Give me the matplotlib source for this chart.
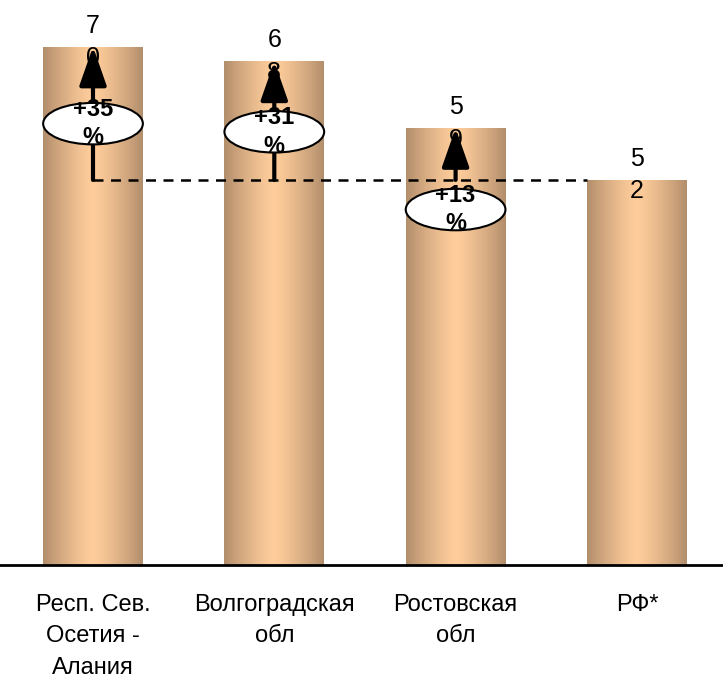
import numpy as np
import matplotlib.pyplot as plt
from matplotlib.patches import Ellipse

# data
regions = ["Респ. Сев.\nОсетия -\nАлания", "Волгоградская\nобл", "Ростовская\nобл", "РФ*"]
values = [70, 68, 59, 52]
value_labels = ["7\n0", "6\n8", "5\n9", "5\n2"]
growth_labels = ["+35\n%", "+31\n%", "+13\n%"]
base_value = 52

# layout: centre of each growth ellipse (data units)
ellipse_y = [59.6, 58.5, 48.0]

fig = plt.figure(figsize=(7.23, 6.78), dpi=100)
ax = fig.add_axes([0, 0.1667, 1, 0.8333])

x = np.arange(len(values))
bw = 0.55
bars = ax.bar(x, values, width=bw, color='none', edgecolor='none', zorder=2)

# cylinder-like horizontal gradient
t = np.linspace(0, 1, 256)
light = np.array([255, 205, 155]) / 255
dark = np.array([178, 142, 108]) / 255
w = np.abs(t - 0.5) * 2
grad = (light[None, :] * (1 - w[:, None] ** 1.3) + dark[None, :] * (w[:, None] ** 1.3))[None, :, :]
for b in bars:
    x0, y0 = b.get_x(), b.get_y()
    im = ax.imshow(grad, extent=[x0, x0 + b.get_width(), y0, y0 + b.get_height()],
                   aspect='auto', zorder=2, interpolation='bilinear')
    im.set_clip_path(b)

ax.set_xlim(-0.513, 3.475)
ax.set_ylim(0, 76.3)

# dashed reference line at RF level
ax.plot([x[0], x[-1] - bw / 2], [base_value, base_value], ls=(0, (4, 3)), color='black', lw=1.8, zorder=3)

# value labels
for xi, v, lab in zip(x, values, value_labels):
    ax.annotate(lab, xy=(xi, v), xytext=(0, 33), textcoords='offset pixels',
                ha='center', va='top', fontsize=18, family='Liberation Sans',
                linespacing=1.45, zorder=5)

# growth arrows and ellipses
for xi, v, lab, ey in zip(x[:-1], values[:-1], growth_labels, ellipse_y):
    ax.annotate('', xy=(xi, v), xytext=(xi, base_value),
                arrowprops=dict(arrowstyle='-|>,head_length=1.2,head_width=0.42',
                                mutation_scale=20, color='black', lw=3,
                                shrinkA=0, shrinkB=0), zorder=4)
    ax.add_patch(Ellipse((xi, ey), width=bw, height=5.6, facecolor='white',
                         edgecolor='black', lw=1.5, zorder=5))
    ax.text(xi, ey, lab, ha='center', va='center', fontsize=17, fontweight='bold',
            family='Liberation Sans', linespacing=1.3, zorder=6)

for s in ['left', 'right', 'top']:
    ax.spines[s].set_visible(False)
ax.spines['bottom'].set_linewidth(2)
ax.set_yticks([])
ax.set_xticks(x)
ax.set_xticklabels(regions, fontsize=17, family='Liberation Sans', linespacing=1.55)
ax.tick_params(axis='x', length=0, pad=21)

fig.savefig('out.png', dpi=100)
